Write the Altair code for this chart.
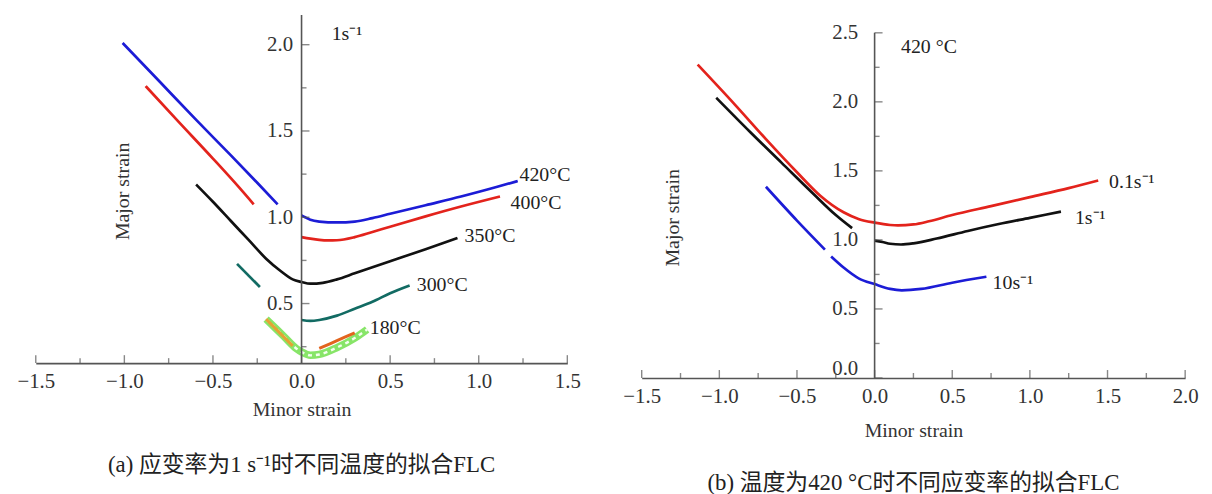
import altair as alt
import pandas as pd

SERIF = "Liberation Serif"
CAPF = "Liberation Serif, Noto Sans CJK SC"
FS = 21
FA = 20

# ---------------- Panel (a): 1 s^-1, different temperatures ----------------
a420_l_x = [-1.01, -0.8, -0.6, -0.4, -0.25, -0.135]
a420_l_y = [2.01, 1.785, 1.57, 1.36, 1.2, 1.075]
a420_r_x = [0.0, 0.02, 0.05, 0.1, 0.2, 0.3, 0.4, 0.5, 0.7, 0.9, 1.1, 1.22]
a420_r_y = [1.01, 1.0, 0.985, 0.975, 0.97, 0.975, 0.995, 1.02, 1.07, 1.12, 1.175, 1.21]

a400_l_x = [-0.88, -0.7, -0.5, -0.35, -0.27]
a400_l_y = [1.76, 1.56, 1.34, 1.17, 1.075]
a400_r_x = [0.0, 0.05, 0.1, 0.15, 0.2, 0.3, 0.4, 0.5, 0.7, 0.9, 1.12]
a400_r_y = [0.885, 0.876, 0.869, 0.866, 0.867, 0.885, 0.915, 0.945, 1.005, 1.062, 1.12]

a350_x = [-0.595, -0.5, -0.4, -0.3, -0.2, -0.12, -0.05, 0.0, 0.05, 0.12, 0.2, 0.3, 0.5, 0.7, 0.88]
a350_y = [1.19, 1.09, 0.98, 0.87, 0.76, 0.69, 0.64, 0.625, 0.615, 0.62, 0.64, 0.675, 0.745, 0.815, 0.88]

a300_l_x = [-0.364, -0.235]
a300_l_y = [0.73, 0.596]
a300_r_x = [0.0, 0.05, 0.1, 0.2, 0.3, 0.4, 0.5, 0.61]
a300_r_y = [0.405, 0.4, 0.405, 0.43, 0.47, 0.51, 0.56, 0.605]

a180_x = [-0.2, -0.1, -0.03, 0.0, 0.05, 0.1, 0.2, 0.3, 0.37]
a180_y = [0.41, 0.31, 0.24, 0.22, 0.2, 0.205, 0.245, 0.3, 0.35]
a180_o1_x = [-0.2, -0.05]
a180_o1_y = [0.41, 0.255]
a180_o2_x = [0.1, 0.2, 0.3]
a180_o2_y = [0.24, 0.285, 0.33]

a_lab_text = ["420°C", "400°C", "350°C", "300°C", "180°C", "1s⁻¹"]
a_lab_x = [1.23, 1.18, 0.92, 0.65, 0.385, 0.17]
a_lab_y = [1.245, 1.08, 0.89, 0.605, 0.356, 2.06]

# ---------------- Panel (b): 420 °C, different strain rates ----------------
b01_x = [-1.14, -0.9, -0.7, -0.5, -0.35, -0.2, -0.1, 0.0, 0.1, 0.15, 0.25, 0.35, 0.5, 0.75, 1.0, 1.25, 1.44]
b01_y = [2.27, 1.98, 1.73, 1.49, 1.32, 1.2, 1.15, 1.125, 1.108, 1.105, 1.112, 1.135, 1.18, 1.245, 1.31, 1.375, 1.43]

b1_l_x = [-1.02, -0.8, -0.6, -0.4, -0.25, -0.145]
b1_l_y = [2.03, 1.78, 1.56, 1.34, 1.18, 1.085]
b1_r_x = [0.0, 0.05, 0.1, 0.17, 0.25, 0.4, 0.6, 0.8, 1.0, 1.2]
b1_r_y = [0.995, 0.985, 0.972, 0.967, 0.975, 1.01, 1.065, 1.115, 1.16, 1.205]

b10_l_x = [-0.70, -0.5, -0.32]
b10_l_y = [1.385, 1.14, 0.93]
b10_r_x = [-0.28, -0.2, -0.1, 0.0, 0.1, 0.175, 0.3, 0.5, 0.72]
b10_r_y = [0.88, 0.8, 0.72, 0.68, 0.645, 0.635, 0.645, 0.69, 0.733]

b_lab_text = ["0.1s⁻¹", "1s⁻¹", "10s⁻¹", "420 °C"]
b_lab_x = [1.51, 1.29, 0.76, 0.17]
b_lab_y = [1.42, 1.16, 0.685, 2.4]

BLUE, RED, BLACK, TEAL = "#1c1cd6", "#e3231c", "#111111", "#126b63"
AXC = "#555555"


def segs(items):
    rows = []
    for name, color, xs, ys in items:
        for i, (x, y) in enumerate(zip(xs, ys)):
            rows.append({"seg": name, "c": color, "x": x, "y": y, "i": i})
    return pd.DataFrame(rows)


def panel(line_df, extra_layers, xdom, ydom, yaxis_top, xticks_major, xticks_minor,
          yticks_major, yticks_minor, ylabels, labels_df, ytitle_xy, w, h, caption,
          cap_offset, title_pad, ylab_pad):
    xoff = -(0 - xdom[0]) / (xdom[1] - xdom[0]) * w
    xs = alt.Scale(domain=xdom, nice=False, zero=False)
    ys = alt.Scale(domain=ydom, nice=False, zero=False)
    X = alt.X("x:Q", scale=xs, axis=alt.Axis(
        values=xticks_major, format=".1f", grid=False, ticks=False, tickSize=0,
        domainColor=AXC, domainWidth=1.6, labelFont=SERIF, labelFontSize=FS,
        labelColor="#333", labelPadding=8, labelFlush=False,
        title="Minor strain", titleFont=SERIF, titleFontSize=20, titleFontWeight="normal",
        titleColor="#333", titlePadding=title_pad))
    Y = alt.Y("y:Q", scale=ys, axis=alt.Axis(
        values=ylabels, format=".1f", grid=False, ticks=False, tickSize=0, domain=False,
        offset=xoff, labelFont=SERIF, labelFontSize=FS, labelColor="#333",
        labelPadding=ylab_pad, labelFlush=True, title=None))

    lines = alt.Chart(line_df).mark_line(strokeWidth=2.7, interpolate="monotone").encode(
        x=X, y=Y, color=alt.Color("c:N", scale=None), detail="seg:N", order="i:Q")

    yline = alt.Chart(pd.DataFrame({"x": [0], "y": [ydom[0]], "y2": [yaxis_top]})).mark_rule(
        color=AXC, strokeWidth=1.6).encode(x="x:Q", y="y:Q", y2="y2:Q")

    txm = pd.DataFrame({"x": xticks_major, "y": [ydom[0]] * len(xticks_major)})
    txn = pd.DataFrame({"x": xticks_minor, "y": [ydom[0]] * len(xticks_minor)})
    xt_major = alt.Chart(txm).mark_tick(orient="vertical", size=8, thickness=1.4,
                                        color=AXC, yOffset=-4).encode(x="x:Q", y="y:Q")
    xt_minor = alt.Chart(txn).mark_tick(orient="vertical", size=5, thickness=1.4,
                                        color=AXC, yOffset=-2.5).encode(x="x:Q", y="y:Q")
    ty_major = alt.Chart(pd.DataFrame({"x": [0] * len(yticks_major), "y": yticks_major})).mark_tick(
        orient="horizontal", size=8, thickness=1.4, color=AXC, xOffset=4).encode(x="x:Q", y="y:Q")
    ty_minor = alt.Chart(pd.DataFrame({"x": [0] * len(yticks_minor), "y": yticks_minor})).mark_tick(
        orient="horizontal", size=5, thickness=1.4, color=AXC, xOffset=2.5).encode(x="x:Q", y="y:Q")

    texts = alt.Chart(labels_df).mark_text(font=SERIF, fontSize=FA, align="left",
                                           baseline="middle", color="#222").encode(
        x="x:Q", y="y:Q", text="t:N")
    ytitle = alt.Chart(pd.DataFrame({"x": [ytitle_xy[0]], "y": [ytitle_xy[1]],
                                     "t": ["Major strain"]})).mark_text(
        font=SERIF, fontSize=20, angle=270, align="center", baseline="middle",
        color="#333").encode(x="x:Q", y="y:Q", text="t:N")

    layers = [lines] + extra_layers() + [yline, xt_major, xt_minor, ty_major, ty_minor,
                                         texts, ytitle]
    return alt.layer(*layers).properties(
        width=w, height=h,
        title=alt.TitleParams(caption, orient="bottom", font=CAPF, fontSize=23,
                              fontWeight="normal", color="#222", offset=cap_offset))


a_df = segs([
    ("420l", BLUE, a420_l_x, a420_l_y), ("420r", BLUE, a420_r_x, a420_r_y),
    ("400l", RED, a400_l_x, a400_l_y), ("400r", RED, a400_r_x, a400_r_y),
    ("350", BLACK, a350_x, a350_y),
    ("300l", TEAL, a300_l_x, a300_l_y), ("300r", TEAL, a300_r_x, a300_r_y),
])
g_df = segs([("180", "#72e04e", a180_x, a180_y)])
o_df = segs([("o1", "#e5a233", a180_o1_x, a180_o1_y), ("o2", "#e2641e", a180_o2_x, a180_o2_y)])


def a_extra():
    green = alt.Chart(g_df).mark_line(strokeWidth=7.5, opacity=0.85, interpolate="monotone",
                                      color="#72e04e").encode(x="x:Q", y="y:Q", order="i:Q")
    white = alt.Chart(g_df).mark_line(strokeWidth=2.4, strokeDash=[4, 4], interpolate="monotone",
                                      color="#f4fff0").encode(x="x:Q", y="y:Q", order="i:Q")
    orange = alt.Chart(o_df).mark_line(strokeWidth=3, interpolate="monotone").encode(
        x="x:Q", y="y:Q", color=alt.Color("c:N", scale=None), detail="seg:N", order="i:Q")
    return [green, white, orange]


b_df = segs([
    ("01", RED, b01_x, b01_y),
    ("1l", BLACK, b1_l_x, b1_l_y), ("1r", BLACK, b1_r_x, b1_r_y),
    ("10l", BLUE, b10_l_x, b10_l_y), ("10r", BLUE, b10_r_x, b10_r_y),
])

a_lab = pd.DataFrame({"x": a_lab_x, "y": a_lab_y, "t": a_lab_text})
b_lab = pd.DataFrame({"x": b_lab_x, "y": b_lab_y, "t": b_lab_text})

left = panel(a_df, a_extra, [-1.5, 1.5], [0.155, 2.172], 2.172,
             [-1.5, -1.0, -0.5, 0.0, 0.5, 1.0, 1.5], [-1.25, -0.75, -0.25, 0.25, 0.75, 1.25],
             [0.5, 1.0, 1.5, 2.0], [0.25, 0.75, 1.25, 1.75], [0.5, 1.0, 1.5, 2.0],
             a_lab, (-1.006, 1.15), 536, 351,
             "(a) 应变率为1 s⁻¹时不同温度的拟合FLC", 35, 8, 9)

right = panel(b_df, lambda: [], [-1.5, 2.0], [0.0, 2.629], 2.5,
              [-1.5, -1.0, -0.5, 0.0, 0.5, 1.0, 1.5, 2.0],
              [-1.25, -0.75, -0.25, 0.25, 0.75, 1.25, 1.75],
              [0.0, 0.5, 1.0, 1.5, 2.0, 2.5], [0.25, 0.75, 1.25, 1.75, 2.25],
              [0.0, 0.5, 1.0, 1.5, 2.0, 2.5],
              b_lab, (-1.30, 1.16), 548, 366,
              "(b) 温度为420 °C时不同应变率的拟合FLC", 32, 14, 17)

chart = alt.hconcat(left, right, spacing=75, bounds="flush").configure_view(
    stroke=None).properties(padding={"left": 8, "top": 4, "right": 5, "bottom": 5},
                            background="white")

chart.save("out.html", embed_options={"renderer": "svg", "actions": False})
